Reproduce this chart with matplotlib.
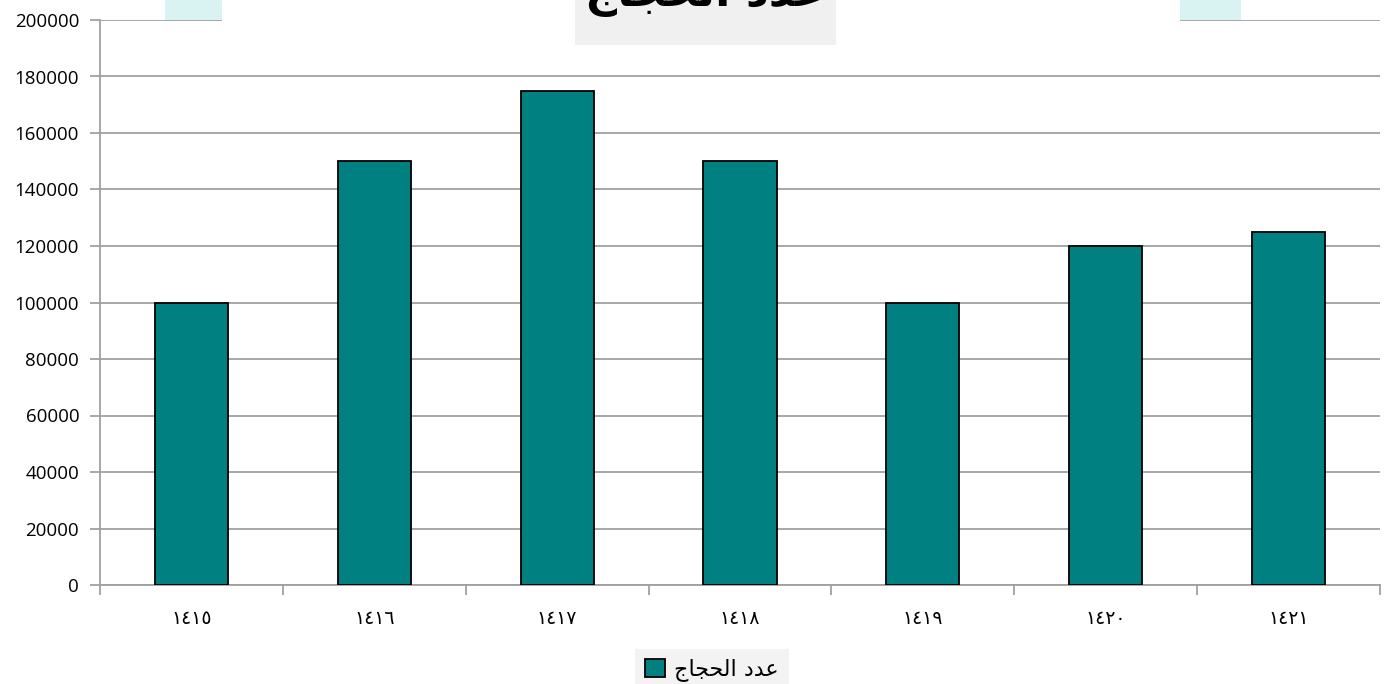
import numpy as np
import matplotlib
matplotlib.use('Agg')
import matplotlib.pyplot as plt
from matplotlib.patches import Rectangle, FancyBboxPatch

# data
years = ['١٤١٥', '١٤١٦', '١٤١٧', '١٤١٨', '١٤١٩', '١٤٢٠', '١٤٢١']
pilgrims = [100000, 150000, 175000, 150000, 100000, 120000, 125000]
yticks = list(range(0, 200001, 20000))

# "عدد الحجاج" written in presentation forms, visual order (matplotlib has no shaping)
label = '\uFE9D\uFE8E\uFEA0\uFEA4\uFEDF\uFE8D \uFEA9\uFEAA\uFECB'

W, H = 1391, 684
fig = plt.figure(figsize=(W / 100, H / 100), dpi=100)
fig.patch.set_facecolor('white')

# background decoration at the top (light cyan slide shape)
fig.patches.append(Rectangle((165 / W, 1 - 20 / H), (1241 - 165) / W, 20 / H,
                             transform=fig.transFigure, facecolor='#d9f3f3',
                             edgecolor='none', zorder=0))
fig.patches.append(FancyBboxPatch((222 / W, 1 - 60 / H), (1180 - 222) / W, 80 / H,
                                  boxstyle='round,pad=0,rounding_size=0.035',
                                  transform=fig.transFigure, facecolor='white',
                                  edgecolor='none', zorder=0.5))

ax = fig.add_axes([100 / W, 1 - 585 / H, (1380 - 100) / W, (585 - 20) / H])
ax.set_facecolor('none')

x = np.arange(len(years))
ax.bar(x, pilgrims, width=0.4, color='#008080', edgecolor='black', linewidth=1.3,
       zorder=3, label=label)

ax.set_xlim(-0.5, len(years) - 0.5)
ax.set_ylim(0, 200000)
ax.set_yticks(yticks)
ax.set_yticklabels([str(v) for v in yticks], fontsize=13.5, family='Open Sans')
ax.yaxis.grid(True, color='#a0a0a0', linewidth=1.3, zorder=1)
ax.tick_params(axis='y', length=7, color='#a0a0a0', width=1.3, pad=8)

ax.set_xticks(x)
ax.set_xticklabels(years, fontsize=13.5, family='DejaVu Sans')
ax.set_xticks(np.arange(len(years) + 1) - 0.5, minor=True)
ax.tick_params(axis='x', which='major', length=0, pad=17)
ax.tick_params(axis='x', which='minor', length=7, color='#a0a0a0', width=1.3)

for s in ['top', 'right']:
    ax.spines[s].set_visible(False)
for s in ['left', 'bottom']:
    ax.spines[s].set_color('#a0a0a0')
    ax.spines[s].set_linewidth(1.3)

# title box, clipped by the top edge like the reference
fig.patches.append(Rectangle((575 / W, 1 - 45 / H), (836 - 575) / W, 50 / H,
                             transform=fig.transFigure, facecolor='#f0f0f0',
                             edgecolor='none', zorder=2))
fig.text(705 / W, 1 - 6 / H, label, fontsize=32, fontweight='bold',
         family='DejaVu Sans', ha='center', va='baseline', zorder=3)

leg = fig.legend(loc='center', bbox_to_anchor=(712 / W, 1 - 670 / H),
                 frameon=True, prop={'family': 'DejaVu Sans', 'size': 16},
                 handlelength=0.9, handleheight=0.9, handletextpad=0.4,
                 borderpad=0.45, fancybox=False)
leg.get_frame().set_facecolor('#f0f0f0')
leg.get_frame().set_edgecolor('none')

fig.savefig('out.png', dpi=100)
